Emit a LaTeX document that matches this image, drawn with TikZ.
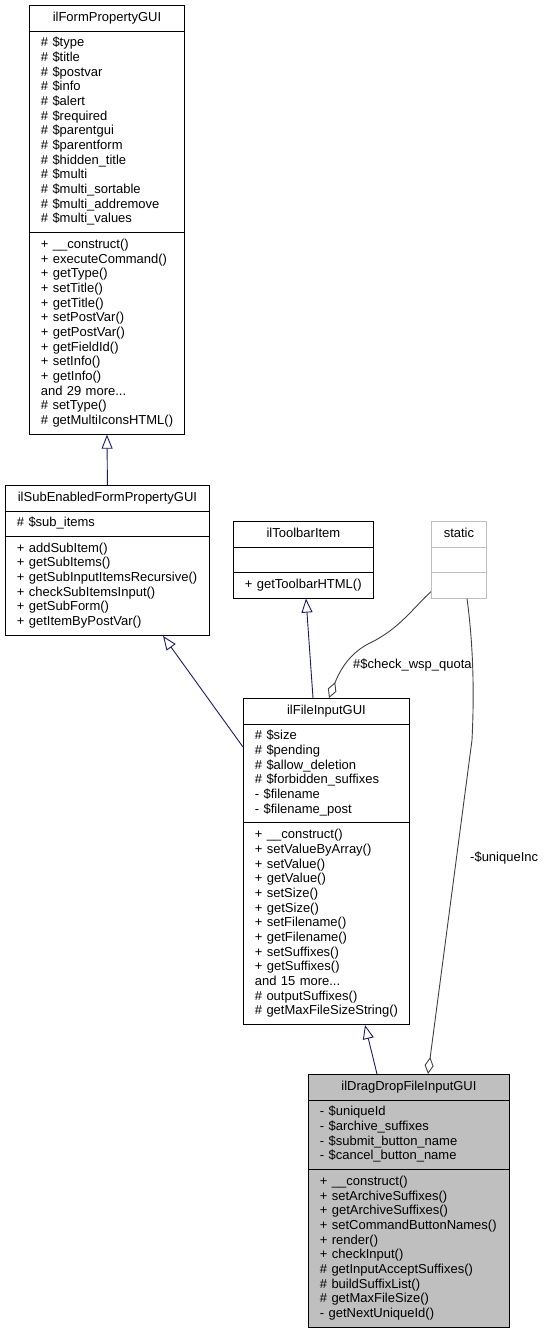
\documentclass[tikz,border=0pt]{standalone}
\usepackage{fontspec}
\setmainfont{Liberation Sans}
\usetikzlibrary{shapes.multipart,arrows.meta}

\definecolor{inhblue}{HTML}{191970}
\definecolor{usegray}{HTML}{404040}
\definecolor{boxgray}{HTML}{BFBFBF}

\setlength{\parindent}{0pt}
\hyphenpenalty=10000
\newcommand{\ctitle}[1]{\hbox to\hsize{\hss\strut#1\hss}}

\begin{document}
\begin{tikzpicture}[x=1pt, y=-1pt,
	cls/.style={rectangle split, rectangle split parts=3, draw=black, line width=0.9pt,
		inner xsep=11.5pt, inner ysep=5pt, align=left, anchor=north west,
		font=\fontsize{13}{14.67}\selectfont},
	inherit/.style={-{Triangle[open, length=14pt, width=11pt]}, draw=inhblue, line width=0.9pt},
	aggr/.style={-{Diamond[open, length=17pt, width=9pt]}, draw=usegray, line width=0.9pt},
	lbl/.style={font=\fontsize{13}{14.67}\selectfont, inner sep=0pt, anchor=west}]

	\useasboundingbox (0,0) rectangle (547,1332);

	\node[cls, text width=132pt] (form) at (29,5) {\ctitle{ilFormPropertyGUI}
		\nodepart{two}\strut\#~\$type\\
		\#~\$title\\
		\#~\$postvar\\
		\#~\$info\\
		\#~\$alert\\
		\#~\$required\\
		\#~\$parentgui\\
		\#~\$parentform\\
		\#~\$hidden\_title\\
		\#~\$multi\\
		\#~\$multi\_sortable\\
		\#~\$multi\_addremove\\
		\#~\$multi\_values\strut
		\nodepart{three}\strut+~\_\_construct()\\
		+~executeCommand()\\
		+~getType()\\
		+~setTitle()\\
		+~getTitle()\\
		+~setPostVar()\\
		+~getPostVar()\\
		+~getFieldId()\\
		+~setInfo()\\
		+~getInfo()\\
		and~29~more...\\
		\#~setType()\\
		\#~getMultiIconsHTML()\strut};

	\node[cls, text width=181pt] (sub) at (5,485) {\ctitle{ilSubEnabledFormPropertyGUI}
		\nodepart{two}\strut\#~\$sub\_items\strut
		\nodepart{three}\strut+~addSubItem()\\
		+~getSubItems()\\
		+~getSubInputItemsRecursive()\\
		+~checkSubItemsInput()\\
		+~getSubForm()\\
		+~getItemByPostVar()\strut};

	\node[cls, text width=117pt] (toolbar) at (233,521) {\ctitle{ilToolbarItem}
		\nodepart{two}\strut
		\nodepart{three}\strut+~getToolbarHTML()\strut};

	\node[cls, text width=32pt, draw=boxgray] (static) at (431,521) {\ctitle{static}
		\nodepart{two}\strut
		\nodepart{three}\strut};

	\node[cls, text width=143pt] (fileinput) at (243,698) {\ctitle{ilFileInputGUI}
		\nodepart{two}\strut\#~\$size\\
		\#~\$pending\\
		\#~\$allow\_deletion\\
		\#~\$forbidden\_suffixes\\
		-~\$filename\\
		-~\$filename\_post\strut
		\nodepart{three}\strut+~\_\_construct()\\
		+~setValueByArray()\\
		+~setValue()\\
		+~getValue()\\
		+~setSize()\\
		+~getSize()\\
		+~setFilename()\\
		+~getFilename()\\
		+~setSuffixes()\\
		+~getSuffixes()\\
		and~15~more...\\
		\#~outputSuffixes()\\
		\#~getMaxFileSizeString()\strut};

	\node[cls, text width=178pt, fill=boxgray] (dragdrop) at (308,1074) {\ctitle{ilDragDropFileInputGUI}
		\nodepart{two}\strut-~\$uniqueId\\
		-~\$archive\_suffixes\\
		-~\$submit\_button\_name\\
		-~\$cancel\_button\_name\strut
		\nodepart{three}\strut+~\_\_construct()\\
		+~setArchiveSuffixes()\\
		+~getArchiveSuffixes()\\
		+~setCommandButtonNames()\\
		+~render()\\
		+~checkInput()\\
		\#~getInputAcceptSuffixes()\\
		\#~buildSuffixList()\\
		\#~getMaxFileSize()\\
		-~getNextUniqueId()\strut};

	% inheritance
	\draw[inherit] (sub.north) -- (form.south);
	\draw[inherit] ([yshift=-49pt]fileinput.north west) -- ([xshift=158pt]sub.south west);
	\draw[inherit] ([xshift=70pt]fileinput.north west) -- ([xshift=73pt]toolbar.south west);
	\draw[inherit] ([xshift=69pt]dragdrop.north west) -- ([xshift=122pt]fileinput.south west);

	% usage
	\draw[aggr] ([yshift=7pt]static.south west) .. controls (415,606) and (400,628) .. (372,642)
		.. controls (350,652) and (340,670) .. ([xshift=86pt]fileinput.north west);
	\node[lbl] (lquota) at (353,665) {\#\$check\_wsp\_quota};

	\draw[aggr] ([xshift=36pt]static.south west) .. controls (474,650) and (474,700) .. (472,740)
		-- ([xshift=120pt]dragdrop.north west);
	\node[lbl] (lunique) at (470,858) {-\$uniqueInc};

\end{tikzpicture}
\end{document}
